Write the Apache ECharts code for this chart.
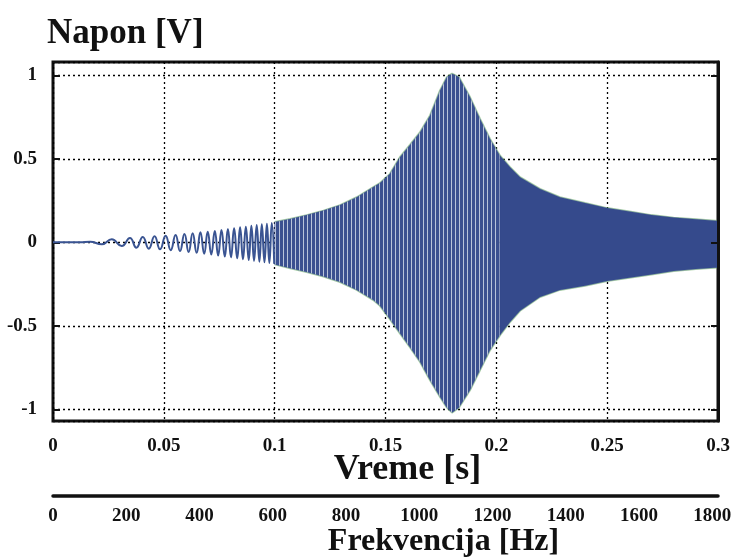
<!DOCTYPE html>
<html>
<head>
<meta charset="utf-8">
<script src="https://cdn.jsdelivr.net/npm/echarts@6/dist/echarts.min.js"></script>
<style>
  html, body { margin: 0; padding: 0; background: #fff; }
  #chart { width: 734px; height: 559px; }
</style>
</head>
<body>
<div id="chart"></div>
<script>
// Early part of the response: individual oscillation peaks and troughs (time [s], voltage [V])
const tEarly = [0, 0.0122, 0.0167, 0.022, 0.0265, 0.031, 0.0347, 0.0376, 0.0405, 0.0432,
  0.0458, 0.0483, 0.0508, 0.0531, 0.0553, 0.0573, 0.0593, 0.0612, 0.0630, 0.0648,
  0.0665, 0.0682, 0.0698, 0.0714, 0.0730, 0.0745, 0.0760, 0.0775, 0.0789, 0.0803,
  0.0817, 0.0831, 0.0844, 0.0857, 0.0870, 0.0883, 0.0895, 0.0907, 0.0919, 0.0931,
  0.0942, 0.0954, 0.0965, 0.0976, 0.0987, 0.0998];
const vEarly = [0, 0, 0.004, -0.012, 0.018, -0.022, 0.026, -0.032, 0.032, -0.038,
  0.036, -0.042, 0.040, -0.047, 0.044, -0.052, 0.050, -0.058, 0.054, -0.063,
  0.060, -0.068, 0.064, -0.073, 0.068, -0.079, 0.074, -0.085, 0.080, -0.090,
  0.084, -0.096, 0.090, -0.101, 0.094, -0.106, 0.100, -0.111, 0.104, -0.116,
  0.108, -0.120, 0.112, -0.124, 0.116, -0.128];

// Dense part of the response: upper and lower envelope of the oscillation
const tEnv = [0.100, 0.107, 0.1144, 0.122, 0.1295, 0.137, 0.1445, 0.1475, 0.152, 0.1565,
  0.1611, 0.1656, 0.1701, 0.1746, 0.1777, 0.180, 0.1831, 0.1881, 0.1926, 0.1971,
  0.2016, 0.2062, 0.2107, 0.2197, 0.2287, 0.240, 0.250, 0.260, 0.270, 0.280, 0.290, 0.300];
const upperEnv = [0.122, 0.140, 0.163, 0.190, 0.223, 0.270, 0.331, 0.355, 0.41, 0.51,
  0.585, 0.66, 0.76, 0.91, 0.99, 1.01, 0.99, 0.87, 0.74, 0.62,
  0.52, 0.45, 0.39, 0.32, 0.27, 0.235, 0.205, 0.185, 0.163, 0.148, 0.138, 0.128];
const lowerEnv = [-0.132, -0.155, -0.178, -0.205, -0.238, -0.285, -0.346, -0.38, -0.46, -0.545,
  -0.63, -0.717, -0.826, -0.926, -0.99, -1.02, -0.99, -0.886, -0.766, -0.647,
  -0.557, -0.477, -0.41, -0.327, -0.285, -0.26, -0.232, -0.212, -0.192, -0.172, -0.16, -0.15];

// Beyond this time the individual oscillations merge into a solid band
const solidFrom = 0.2;

// Axis ranges and tick steps
const timeRange = [0, 0.3];
const timeStep = 0.05;
const freqRange = [0, 1816];   // scale runs a little past the last labelled value
const freqStep = 200;
const voltRange = [-1.07, 1.08];
const voltStep = 0.5;

const FONT = 'Liberation Serif';
const INK = '#111';
const BLUE = '#354a8c';
const GREEN = '#5aa552';

const earlyData = tEarly.map((t, i) => [t, vEarly[i]]);
const upperData = tEnv.map((t, i) => [t, upperEnv[i]]);
const lowerData = tEnv.map((t, i) => [t, lowerEnv[i]]);
// one row per envelope sample: time, upper, lower
const bandData = tEnv.map((t, i) => [t, upperEnv[i], lowerEnv[i]]);

const labelStyle = { fontFamily: FONT, fontWeight: 'bold', fontSize: 19, color: INK };
const nameStyle = { fontFamily: FONT, fontWeight: 'bold', fontSize: 33, color: INK };

// show a label only on whole multiples of the step
const stepLabel = step => v => {
  const k = v / step;
  return Math.abs(k - Math.round(k)) < 1e-6 ? String(Math.round(k) * step) : '';
};

// Vertical-stripe texture for the part where single oscillations are still resolvable
function stripeTexture() {
  const c = document.createElement('canvas');
  c.width = 4; c.height = 4;
  const g = c.getContext('2d');
  g.fillStyle = '#3b5090';
  g.fillRect(0, 0, 4, 4);
  g.fillStyle = '#b9c4da';
  g.fillRect(3, 0, 1, 4);
  return { image: c, repeat: 'repeat' };
}
const stripes = stripeTexture();

// Filled band between the upper and lower envelope, striped part then solid part
function renderBand(params, api) {
  if (params.dataIndex !== 0) return null;
  const split = bandData.findIndex(r => r[0] >= solidFrom);
  const poly = rows => {
    const top = rows.map(r => api.coord([r[0], r[1]]));
    const bottom = rows.map(r => api.coord([r[0], r[2]])).reverse();
    return top.concat(bottom);
  };
  return {
    type: 'group',
    children: [
      {
        type: 'polygon',
        shape: { points: poly(bandData.slice(0, split + 1)) },
        style: { fill: stripes, stroke: 'rgba(53,74,140,0.5)', lineWidth: 0.6 }
      },
      {
        type: 'polygon',
        shape: { points: poly(bandData.slice(split)) },
        style: { fill: BLUE, stroke: 'rgba(53,74,140,0.6)', lineWidth: 0.6 }
      }
    ]
  };
}

const chart = echarts.init(document.getElementById('chart'), null, { renderer: 'canvas' });
chart.setOption({
  animation: false,
  backgroundColor: '#fff',
  title: {
    text: 'Napon [V]',
    left: 42,
    top: 11,
    textStyle: Object.assign({}, nameStyle, { fontSize: 35 })
  },
  grid: {
    left: 53, right: 16, top: 62, bottom: 138,
    outerBoundsMode: 'none',
    containLabel: false,
    show: true, borderColor: INK, borderWidth: 3, backgroundColor: 'transparent'
  },
  xAxis: [
    {
      type: 'value', min: timeRange[0], max: timeRange[1], interval: timeStep,
      position: 'bottom',
      axisLine: { show: false, onZero: false },
      axisTick: { show: false },
      axisLabel: Object.assign({ margin: 16 }, labelStyle),
      splitLine: { show: true, lineStyle: { color: '#000', type: [2, 3], width: 1.3 } },
      name: 'Vreme [s]', nameLocation: 'middle', nameGap: 31, nameMoveOverlap: false,
      nameTextStyle: Object.assign({}, nameStyle, { fontSize: 36, padding: [0, 0, 0, 44] })
    },
    {
      type: 'value', min: freqRange[0], max: freqRange[1], interval: freqStep,
      position: 'bottom', offset: 75,
      axisLine: { show: true, onZero: false, lineStyle: { color: INK, width: 3.5 } },
      axisTick: { show: false },
      axisLabel: Object.assign({ margin: 11, formatter: stepLabel(freqStep) }, labelStyle),
      splitLine: { show: false },
      name: 'Frekvencija [Hz]', nameLocation: 'middle', nameGap: 30, nameMoveOverlap: false,
      nameTextStyle: Object.assign({}, nameStyle, { fontSize: 32, padding: [0, 0, 0, 116] })
    }
  ],
  yAxis: [
    {
      type: 'value', min: voltRange[0], max: voltRange[1],
      position: 'left',
      axisLine: { show: false, onZero: false },
      axisTick: { show: true, inside: true, length: 7, lineStyle: { color: INK, width: 2 } },
      axisLabel: Object.assign({ margin: 16, formatter: stepLabel(voltStep) }, labelStyle),
      splitLine: { show: true, lineStyle: { color: '#000', type: [2, 3], width: 1.3 } }
    },
    {
      type: 'value', min: voltRange[0], max: voltRange[1],
      position: 'right', z: 10,
      axisLine: { show: true, onZero: false, lineStyle: { color: INK, width: 3 } },
      axisTick: { show: true, inside: true, length: 7, lineStyle: { color: INK, width: 2 } },
      axisLabel: { show: false },
      splitLine: { show: false }
    }
  ],
  series: [
    {
      // faint green trace peeking out along the envelope edges
      type: 'line', data: upperData, xAxisIndex: 0, yAxisIndex: 0,
      symbol: 'none', z: 1, silent: true,
      lineStyle: { color: GREEN, width: 2, opacity: 0.5 }
    },
    {
      type: 'line', data: lowerData, xAxisIndex: 0, yAxisIndex: 0,
      symbol: 'none', z: 1, silent: true,
      lineStyle: { color: GREEN, width: 2, opacity: 0.5 }
    },
    {
      type: 'line', data: earlyData, xAxisIndex: 0, yAxisIndex: 0,
      symbol: 'none', smooth: 0.5, z: 3,
      lineStyle: { color: '#3a5492', width: 2 }
    },
    {
      type: 'custom', data: bandData, xAxisIndex: 0, yAxisIndex: 0,
      renderItem: renderBand, z: 2, clip: true, silent: true
    }
  ]
});
</script>
</body>
</html>
